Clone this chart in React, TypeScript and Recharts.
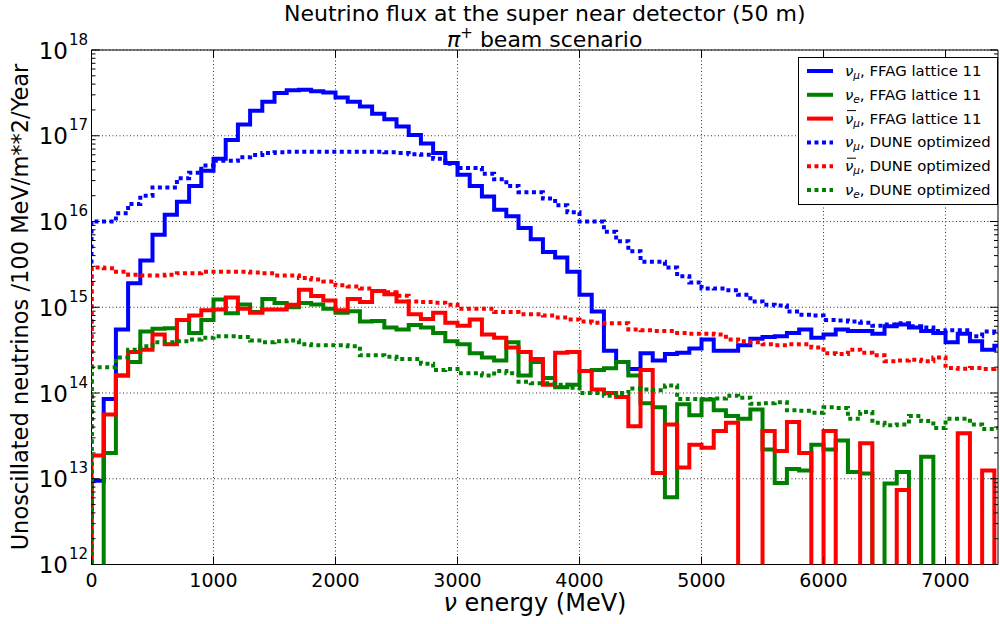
import React from 'react';
import { LineChart, Line, XAxis, YAxis, CartesianGrid, ReferenceArea } from 'recharts';

// 100 MeV bins (0 = empty bin)
const BIN_WIDTH = 100;

const numuFfag = [
  9.5e12, 8.5e13, 5.5e14, 1.9e15, 3.5e15, 7e15, 1.2e16, 1.7e16, 2.6e16, 3.9e16,
  5.4e16, 8.9e16, 1.35e17, 1.96e17, 2.5e17, 3.15e17, 3.4e17, 3.45e17, 3.3e17, 3.2e17,
  2.8e17, 2.5e17, 2.2e17, 1.8e17, 1.56e17, 1.28e17, 1.02e17, 8.1e16, 6.3e16, 4.8e16,
  3.5e16, 2.6e16, 1.96e16, 1.37e16, 1.15e16, 8.4e15, 6.2e15, 4.4e15, 3.8e15, 2.6e15,
  1.4e15, 8.9e14, 3.1e14, 2.3e14, 1.9e14, 2.9e14, 2.4e14, 2.85e14, 2.95e14, 3.3e14,
  4.2e14, 3.1e14, 3.1e14, 3.6e14, 4.3e14, 4.5e14, 4.6e14, 5.0e14, 5.5e14, 4.4e14,
  4.8e14, 5.5e14, 5.3e14, 5.3e14, 4.9e14, 6.0e14, 6.3e14, 5.8e14, 5.3e14, 5.0e14,
  3.9e14, 4.9e14, 4.0e14, 3.2e14, 3.55e14,
];

const nueFfag = [
  0, 2.0e13, 1.6e14, 2.3e14, 5.2e14, 5.6e14, 5.7e14, 7.1e14, 5.0e14, 7.1e14,
  1.23e15, 8.5e14, 1.08e15, 8.8e14, 1.25e15, 1.12e15, 1.0e15, 1.12e15, 1.08e15, 9.6e14,
  8.6e14, 9.0e14, 6.8e14, 6.9e14, 5.8e14, 5.5e14, 6.2e14, 5.8e14, 5.0e14, 4.0e14,
  3.7e14, 2.9e14, 2.6e14, 2.4e14, 3.9e14, 1.6e14, 2.3e14, 1.5e14, 1.17e14, 1.25e14,
  1.8e14, 1.85e14, 1.95e14, 2.3e14, 1.6e14, 7.6e13, 6.8e13, 6.1e12, 7.4e13, 5.5e13,
  8.4e13, 6.3e13, 5.4e13, 5.0e13, 6.4e13, 2.2e13, 8.9e12, 1.3e13, 1.25e13, 2.5e13,
  2.2e13, 2.8e13, 1.2e13, 1.15e13, 0, 8.8e12, 1.2e13, 0, 1.8e13, 0,
  0, 0, 0, 0, 0,
];

const numubarFfag = [
  1.87e13, 5.6e13, 1.6e14, 3.0e14, 3.2e14, 4.8e14, 3.7e14, 7.1e14, 8.0e14, 9.2e14,
  9.4e14, 1.3e15, 9.6e14, 8.6e14, 9.4e14, 9.4e14, 1.07e15, 1.6e15, 1.35e15, 1.2e15,
  9.2e14, 1.25e15, 1.15e15, 1.55e15, 1.42e15, 1.17e15, 8.3e14, 7.3e14, 8.6e14, 6.6e14,
  6.1e14, 7.2e14, 4.8e14, 4.4e14, 3.4e14, 3.0e14, 2.5e14, 1.25e14, 2.95e14, 3.0e14,
  1.8e14, 1.1e14, 1.0e14, 9.0e13, 4.1e13, 1.85e14, 1.17e13, 4.3e13, 1.35e13, 2.5e13,
  2.3e13, 3.6e13, 4.5e13, 0, 0, 3.6e13, 2.1e13, 4.6e13, 2.0e13, 0,
  3.6e13, 0, 0, 2.6e13, 0, 0, 7.4e12, 0, 0, 0,
  0, 3.4e13, 0, 1.25e13, 0,
];

const numuDune = [
  1.0e16, 1.0e16, 1.25e16, 1.6e16, 2.0e16, 2.5e16, 2.5e16, 3.2e16, 3.7e16, 4.5e16,
  5.1e16, 5.1e16, 5.6e16, 5.95e16, 6.3e16, 6.4e16, 6.5e16, 6.5e16, 6.5e16, 6.5e16,
  6.5e16, 6.5e16, 6.5e16, 6.5e16, 6.4e16, 6.3e16, 6.1e16, 6.0e16, 5.4e16, 4.7e16,
  4.2e16, 4.2e16, 3.6e16, 3.1e16, 2.6e16, 2.2e16, 2.2e16, 1.85e16, 1.55e16, 1.28e16,
  1.0e16, 1.0e16, 7.6e15, 5.9e15, 4.5e15, 3.4e15, 3.4e15, 2.9e15, 2.3e15, 1.95e15,
  1.66e15, 1.65e15, 1.58e15, 1.4e15, 1.17e15, 1.07e15, 1.05e15, 8.9e14, 8.2e14, 8.0e14,
  7.1e14, 7.0e14, 6.8e14, 6.6e14, 6.1e14, 6.3e14, 6.5e14, 6.0e14, 5.8e14, 5.3e14,
  5.4e14, 5.4e14, 4.6e14, 5.2e14, 5.0e14,
];

const numubarDune = [
  2.9e15, 2.85e15, 2.6e15, 2.4e15, 2.35e15, 2.35e15, 2.4e15, 2.5e15, 2.5e15, 2.6e15,
  2.6e15, 2.6e15, 2.6e15, 2.55e15, 2.5e15, 2.35e15, 2.35e15, 2.2e15, 2.1e15, 2.0e15,
  1.8e15, 1.75e15, 1.66e15, 1.55e15, 1.5e15, 1.36e15, 1.17e15, 1.15e15, 1.13e15, 1.07e15,
  9.6e14, 9.6e14, 9.6e14, 8.8e14, 8.8e14, 8.3e14, 8.3e14, 8.0e14, 7.6e14, 7.2e14,
  6.8e14, 6.6e14, 6.5e14, 6.5e14, 5.5e14, 5.4e14, 5.3e14, 5.3e14, 5.0e14, 4.9e14,
  4.9e14, 4.8e14, 4.2e14, 4.0e14, 3.9e14, 3.7e14, 3.6e14, 3.7e14, 3.7e14, 3.4e14,
  2.9e14, 2.85e14, 3.2e14, 2.95e14, 2.75e14, 2.35e14, 2.4e14, 2.45e14, 2.35e14, 2.6e14,
  1.96e14, 1.92e14, 1.96e14, 1.9e14, 1.96e14,
];

const nueDune = [
  2.0e14, 2.0e14, 2.6e14, 3.2e14, 3.5e14, 3.9e14, 3.9e14, 4.0e14, 4.2e14, 4.4e14,
  4.6e14, 4.6e14, 4.5e14, 4.1e14, 3.9e14, 4.0e14, 4.1e14, 3.7e14, 3.6e14, 3.6e14,
  3.6e14, 3.5e14, 2.75e14, 2.75e14, 2.65e14, 2.5e14, 2.5e14, 2.2e14, 1.85e14, 1.9e14,
  1.7e14, 1.7e14, 1.6e14, 1.8e14, 1.7e14, 1.35e14, 1.3e14, 1.3e14, 1.25e14, 1.15e14,
  1.0e14, 1.0e14, 9.3e13, 1.0e14, 1.13e14, 1.1e14, 1.08e14, 1.22e14, 8.5e13, 8.5e13,
  8.5e13, 8.6e13, 9.3e13, 8.8e13, 7.5e13, 7.6e13, 7.8e13, 6.3e13, 6.2e13, 5.9e13,
  6.8e13, 6.7e13, 5.0e13, 6.0e13, 4.5e13, 4.2e13, 4.3e13, 5.4e13, 4.7e13, 3.9e13,
  5.0e13, 5.0e13, 4.3e13, 3.8e13, 3.9e13,
];

const xTicks = [0, 1000, 2000, 3000, 4000, 5000, 6000, 7000];
const yMajor = [1e12, 1e13, 1e14, 1e15, 1e16, 1e17, 1e18];
const yMinorFactors = [2, 3, 4, 5, 6, 7, 8, 9];

const FONT = '"DejaVu Sans", sans-serif';
const W = 1000;
const H = 624;
const PLOT_L = 91.5;
const PLOT_R = 998;
const PLOT_T = 50;
const PLOT_B = 564.5;
const X_MAX = 7430;
const Y_MIN = 1e12;
const Y_MAX = 1e18;
const FLOOR = 1e10; // empty bins drop below the axis and get clipped

const series = [
  { key: 'numuFfag', data: numuFfag, color: '#0000ff', dotted: false },
  { key: 'nueFfag', data: nueFfag, color: '#008000', dotted: false },
  { key: 'numubarFfag', data: numubarFfag, color: '#ff0000', dotted: false },
  { key: 'numuDune', data: numuDune, color: '#0000ff', dotted: true },
  { key: 'numubarDune', data: numubarDune, color: '#ff0000', dotted: true },
  { key: 'nueDune', data: nueDune, color: '#008000', dotted: true },
];

const NBINS = numuFfag.length;
const clampV = (v: number) => (v > 0 ? v : FLOOR);

// step rows: start from the floor at x=0, one row per bin edge, closing edge at the end
const rows: Record<string, number>[] = [];
{
  const start: Record<string, number> = { x: 0 };
  series.forEach((s) => (start[s.key] = FLOOR));
  rows.push(start);
  for (let i = 0; i < NBINS; i++) {
    const r: Record<string, number> = { x: i * BIN_WIDTH };
    series.forEach((s) => (r[s.key] = clampV(s.data[i])));
    rows.push(r);
  }
  const end: Record<string, number> = { x: NBINS * BIN_WIDTH };
  series.forEach((s) => (end[s.key] = clampV(s.data[NBINS - 1])));
  rows.push(end);
}

const yTicks: number[] = [];
yMajor.forEach((m, i) => {
  yTicks.push(m);
  if (i < yMajor.length - 1) yMinorFactors.forEach((f) => yTicks.push(m * f));
});

const XTick = (props: any) => {
  const { payload } = props;
  const x = payload.coordinate;
  return (
    <g>
      <line x1={x} x2={x} y1={PLOT_B} y2={PLOT_B - 8} stroke="#000" strokeWidth={1} />
      <line x1={x} x2={x} y1={PLOT_T} y2={PLOT_T + 8} stroke="#000" strokeWidth={1} />
      <text x={x} y={587} textAnchor="middle" fontSize={19} fontFamily={FONT} fill="#000">
        {payload.value}
      </text>
    </g>
  );
};

const YTick = (props: any) => {
  const { payload } = props;
  const y = payload.coordinate;
  const lg = Math.log10(payload.value);
  const exp = Math.round(lg);
  const major = Math.abs(lg - exp) < 1e-6;
  const len = major ? 8 : 4;
  return (
    <g>
      <line x1={PLOT_L} x2={PLOT_L + len} y1={y} y2={y} stroke="#000" strokeWidth={1} />
      <line x1={PLOT_R} x2={PLOT_R - len} y1={y} y2={y} stroke="#000" strokeWidth={1} />
      {major && (
        <text x={88} y={y + 8.5} textAnchor="end" fontFamily={FONT} fill="#000">
          <tspan fontSize={23}>10</tspan>
          <tspan fontSize={15} dx={1} dy={-14}>{exp}</tspan>
        </text>
      )}
    </g>
  );
};

const legendItems = [
  { color: '#0000ff', dotted: false, sub: 'μ', bar: false, text: ', FFAG lattice 11' },
  { color: '#008000', dotted: false, sub: 'e', bar: false, text: ', FFAG lattice 11' },
  { color: '#ff0000', dotted: false, sub: 'μ', bar: true, text: ', FFAG lattice 11' },
  { color: '#0000ff', dotted: true, sub: 'μ', bar: false, text: ', DUNE optimized' },
  { color: '#ff0000', dotted: true, sub: 'μ', bar: true, text: ', DUNE optimized' },
  { color: '#008000', dotted: true, sub: 'e', bar: false, text: ', DUNE optimized' },
];

const DASH = '4 3.5';

const Overlay = () => (
  <svg width={W} height={H} style={{ position: 'absolute', left: 0, top: 0, pointerEvents: 'none' }}>
    <g fontFamily={FONT} fill="#000">
      <text x={(PLOT_L + PLOT_R) / 2} y={21} fontSize={22} textAnchor="middle">
        Neutrino flux at the super near detector (50 m)
      </text>
      <text x={(PLOT_L + PLOT_R) / 2} y={47} fontSize={22} textAnchor="middle">
        <tspan fontStyle="italic">π</tspan>
        <tspan fontSize={15} dy={-9}>+</tspan>
        <tspan dy={9}> beam scenario</tspan>
      </text>
      <text x={535} y={611} fontSize={24} textAnchor="middle">
        <tspan fontStyle="italic">ν</tspan> energy (MeV)
      </text>
      <text x={28} y={307} fontSize={22.5} textAnchor="middle" transform="rotate(-90 28 307)">
        Unoscillated neutrinos /100 MeV/m**2/Year
      </text>
    </g>
    <g>
      <rect x={798.5} y={57.5} width={199} height={147} fill="#fff" stroke="#000" strokeWidth={1} />
      {legendItems.map((it, i) => {
        const cy = 71 + i * 23.8;
        return (
          <g key={i}>
            <line
              x1={807}
              x2={833}
              y1={cy}
              y2={cy}
              stroke={it.color}
              strokeWidth={4}
              strokeDasharray={it.dotted ? DASH : undefined}
            />
            {it.bar && <line x1={847} x2={856} y1={cy - 8} y2={cy - 8} stroke="#000" strokeWidth={1} />}
            <text x={845} y={cy + 5} fontSize={14.9} fontFamily={FONT} fill="#000">
              <tspan fontStyle="italic">ν</tspan>
              <tspan fontStyle="italic" fontSize={10.5} dy={3}>{it.sub}</tspan>
              <tspan dy={-3}>{it.text}</tspan>
            </text>
          </g>
        );
      })}
    </g>
  </svg>
);

export default function App() {
  return (
    <div style={{ position: 'absolute', left: 0, top: 0, width: W, height: H, background: '#fff' }}>
      <LineChart
        width={W}
        height={H}
        data={rows}
        margin={{ top: PLOT_T, right: W - PLOT_R, left: 0, bottom: 0 }}
      >
        <CartesianGrid
          stroke="#333"
          strokeWidth={1}
          strokeDasharray="1 2.5"
          verticalValues={xTicks}
          horizontalValues={yMajor}
        />
        <XAxis
          dataKey="x"
          type="number"
          domain={[0, X_MAX]}
          allowDataOverflow
          ticks={xTicks}
          interval={0}
          tickLine={false}
          axisLine={false}
          tick={<XTick />}
          height={H - PLOT_B}
        />
        <YAxis
          type="number"
          scale="log"
          domain={[Y_MIN, Y_MAX]}
          allowDataOverflow
          ticks={yTicks}
          interval={0}
          tickLine={false}
          axisLine={false}
          tick={<YTick />}
          width={PLOT_L}
        />
        {series.map((s) => (
          <Line
            key={s.key}
            dataKey={s.key}
            type="stepAfter"
            stroke={s.color}
            strokeWidth={4}
            strokeDasharray={s.dotted ? DASH : undefined}
            strokeLinejoin="miter"
            dot={false}
            activeDot={false}
            isAnimationActive={false}
          />
        ))}
        <ReferenceArea
          x1={0}
          x2={X_MAX}
          y1={Y_MIN}
          y2={Y_MAX}
          fill="none"
          stroke="#000"
          strokeWidth={1}
          ifOverflow="visible"
        />
      </LineChart>
      <Overlay />
    </div>
  );
}
